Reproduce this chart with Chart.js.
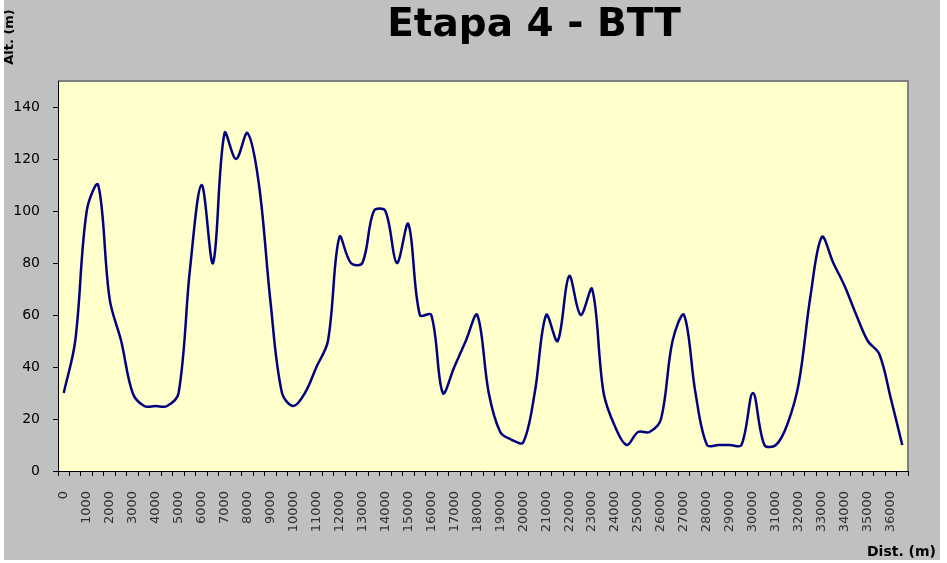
<!DOCTYPE html>
<html>
<head>
<meta charset="utf-8">
<script src="https://cdn.jsdelivr.net/npm/chart.js@4"></script>
<style>
  body { margin: 0; background: #fff; }
  #wrap { position: absolute; left: 4px; top: 0; width: 936px; height: 560px; background: #c0c0c0; }
</style>
</head>
<body>
<div id="wrap"><canvas id="myChart"></canvas></div>
<script>
// distance (m) every 500 m, altitude (m)
const distances = [0, 500, 1000, 1500, 2000, 2500, 3000, 3500, 4000, 4500,
    5000, 5500, 6000, 6500, 7000, 7500, 8000, 8500, 9000, 9500,
    10000, 10500, 11000, 11500, 12000, 12500, 13000, 13500, 14000, 14500,
    15000, 15500, 16000, 16500, 17000, 17500, 18000, 18500, 19000, 19500,
    20000, 20500, 21000, 21500, 22000, 22500, 23000, 23500, 24000, 24500,
    25000, 25500, 26000, 26500, 27000, 27500, 28000, 28500, 29000, 29500,
    30000, 30500, 31000, 31500, 32000, 32500, 33000, 33500, 34000, 34500,
    35000, 35500, 36000, 36500];
const altitudes = [30, 50, 100, 110, 66, 50, 30, 25, 25, 25,
    30, 78, 110, 80, 130, 120, 130, 110, 65, 30,
    25, 30, 40, 50, 90, 80, 80, 100, 100, 80,
    95, 60, 60, 30, 40, 50, 60, 30, 15, 12,
    11, 30, 60, 50, 75, 60, 70, 30, 17, 10,
    15, 15, 20, 50, 60, 30, 10, 10, 10, 10,
    30, 10, 10, 18, 34, 67, 90, 80, 71, 60,
    50, 45, 28, 10];
const yTicks = [0, 20, 40, 60, 80, 100, 120, 140];

const titleText = "Etapa 4 - BTT";
const yTitle = "Alt. (m)";
const xTitle = "Dist. (m)";

// yellow plot area, grey frame and the free-standing texts
const decor = {
    id: 'decor',
    beforeDraw(chart) {
        const a = chart.chartArea;
        const c = chart.ctx;
        c.save();
        c.fillStyle = '#ffffcc';
        c.fillRect(a.left, a.top, a.right - a.left, a.bottom - a.top);
        c.strokeStyle = '#808080';
        c.lineWidth = 2;
        c.beginPath();
        c.moveTo(a.left, a.top);
        c.lineTo(a.right, a.top);
        c.lineTo(a.right, a.bottom);
        c.stroke();
        c.restore();
    },
    afterDraw(chart) {
        const c = chart.ctx;
        c.save();
        c.fillStyle = '#000';
        c.font = 'bold 39px "Comic Sans MS", "DejaVu Sans", sans-serif';
        c.textAlign = 'center';
        c.textBaseline = 'alphabetic';
        c.fillText(titleText, 530, 36);

        c.font = 'bold 14px "DejaVu Sans", sans-serif';
        c.textAlign = 'right';
        c.fillText(xTitle, 932, 556);

        c.translate(6, 37);
        c.rotate(-Math.PI / 2);
        c.font = 'bold 13px "DejaVu Sans", sans-serif';
        c.textAlign = 'center';
        c.textBaseline = 'middle';
        c.fillText(yTitle, 0, 0);
        c.restore();
    }
};

const ctx = document.getElementById('myChart').getContext('2d');
const myChart = new Chart(ctx, {
    type: 'line',
    data: {
        labels: distances,
        datasets: [{
            data: altitudes,
            borderColor: '#000080',
            borderWidth: 2.5,
            pointRadius: 0,
            tension: 0.35,
            fill: false
        }]
    },
    options: {
        responsive: true,
        maintainAspectRatio: false,
        animation: { duration: 0 },
        layout: { padding: { top: 81, right: 32, left: 0, bottom: 0 } },
        plugins: {
            legend: { display: false },
            tooltip: { enabled: false }
        },
        scales: {
            x: {
                type: 'category',
                offset: true,
                grid: {
                    offset: true,
                    drawOnChartArea: false,
                    tickLength: 5,
                    color: '#000'
                },
                border: { color: '#000' },
                ticks: {
                    autoSkip: false,
                    maxRotation: 90,
                    minRotation: 90,
                    padding: 15,
                    color: '#333',
                    font: { family: 'DejaVu Sans', size: 13 },
                    callback: function (v, i) {
                        const d = distances[i];
                        return d % 1000 === 0 ? String(d) : '';
                    }
                },
                afterFit: function (s) { s.height = 89; }
            },
            y: {
                min: 0,
                max: 150,
                afterBuildTicks: function (s) {
                    s.ticks = yTicks.map(v => ({ value: v }));
                },
                grid: {
                    drawOnChartArea: false,
                    tickLength: 5,
                    color: '#000'
                },
                border: { color: '#000' },
                ticks: {
                    padding: 13,
                    color: '#000',
                    font: { family: 'DejaVu Sans', size: 14 }
                },
                afterFit: function (s) { s.width = 54; }
            }
        }
    },
    plugins: [decor]
});
</script>
</body>
</html>
